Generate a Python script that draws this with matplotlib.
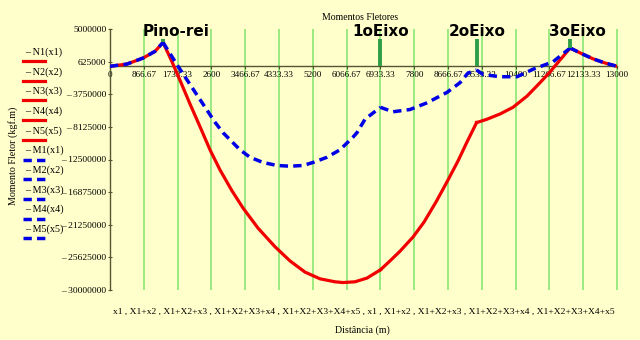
import matplotlib.pyplot as plt
from matplotlib.lines import Line2D

# posicoes (mm) e momentos (kgf.m) por trecho
x1 = [0, 435, 846, 1154, 1360]
x2 = [1360, 1590, 1821, 2051, 2308, 2564, 2821, 3128, 3410, 3795, 4231, 4615,
      5000, 5385, 5769, 5974, 6282, 6590, 6933]
x3 = [6933, 7179, 7436, 7769, 8051, 8359, 8641, 8923, 9154, 9400]
x4 = [9400, 9667, 10000, 10333, 10692, 11026, 11282, 11538, 11800]
x5 = [11800, 12051, 12385, 12692, 13000]

N1 = [0, 0.3e6, 1.1e6, 2.0e6, 3.2e6]
N2 = [3.2e6, 0.6e6, -2.2e6, -5.05e6, -8.1e6, -11.2e6, -13.9e6, -16.7e6, -19.0e6,
      -21.7e6, -24.2e6, -26.1e6, -27.6e6, -28.5e6, -28.9e6, -29.0e6, -28.9e6,
      -28.4e6, -27.3e6]
N3 = [-27.3e6, -26.1e6, -24.8e6, -22.9e6, -20.9e6, -18.2e6, -15.5e6, -12.7e6,
      -10.15e6, -7.55e6]
N4 = [-7.55e6, -7.1e6, -6.4e6, -5.5e6, -4.0e6, -2.2e6, -0.76e6, 0.84e6, 2.45e6]
N5 = [2.45e6, 1.8e6, 1.0e6, 0.44e6, 0]

xm1 = [0, 435, 846, 1154, 1360]
xm2 = [1360, 1744, 2692, 2897, 3333, 3590, 3923, 4282, 4615, 4949, 5205, 5564,
       5897, 6231, 6333, 6538, 6933]
xm3 = [6933, 7256, 7692, 8128, 8641, 8974, 9180, 9400]
xm4 = [9400, 9564, 10000, 10436, 10846, 11359, 11800]
xm5 = [11800, 12051, 12385, 12692, 13000]

M1 = [0, 0.3e6, 1.1e6, 2.0e6, 3.2e6]
M2 = [3.2e6, 0, -7.5e6, -8.9e6, -11.2e6, -12.2e6, -12.9e6, -13.3e6, -13.4e6,
      -13.3e6, -12.9e6, -12.2e6, -11.2e6, -9.5e6, -8.9e6, -7.1e6, -5.5e6]
M3 = [-5.5e6, -6.1e6, -5.8e6, -4.9e6, -3.5e6, -2.2e6, -0.9e6, -0.5e6]
M4 = [-0.5e6, -1.1e6, -1.4e6, -1.4e6, -0.4e6, 0.6e6, 2.45e6]
M5 = [2.45e6, 1.8e6, 1.0e6, 0.44e6, 0]

eixos = ["Pino-rei", "1oEixo", "2oEixo", "3oEixo"]
x_eixos = [1360, 6933, 9400, 11800]
M_eixos = [3.2e6, -5.5e6, -0.5e6, 2.45e6]

L = 13000
x_ticks = [L / 15 * i for i in range(16)]
y_ticks = [5000000 - 4375000 * i for i in range(9)]

n_labels = ["N1(x1)", "N2(x2)", "N3(x3)", "N4(x4)", "N5(x5)"]
m_labels = ["M1(x1)", "M2(x2)", "M3(x3)", "M4(x4)", "M5(x5)"]

bg = "#ffffcc"
serif = "Liberation Serif"
dash = (0, (2.4, 1.5))

fig = plt.figure(figsize=(6.4, 3.4), dpi=100, facecolor=bg)
ax = fig.add_axes([110 / 640, 1 - 290 / 340, 507 / 640, 261 / 340])
ax.set_facecolor(bg)
ax.set_xlim(0, L)
ax.set_ylim(-30000000, 5000000)

# linhas verticais da grade
ax.vlines(x_ticks[1:], -30000000, 5000000, color="#80e46c", lw=1.1, zorder=1, clip_on=False)

for xs, ys in zip([x1, x2, x3, x4, x5], [N1, N2, N3, N4, N5]):
    ax.plot(xs, ys, color="#f00000", lw=2.3, zorder=3, solid_joinstyle="round")
for xs, ys in zip([xm1, xm2, xm3, xm4, xm5], [M1, M2, M3, M4, M5]):
    ax.plot(xs, ys, color="#0000e6", lw=2.5, ls=dash, zorder=4)

# marcadores dos eixos do veiculo
offs = [330, 15, 10, 175]
for nome, xe, me, dx in zip(eixos, x_eixos, M_eixos, offs):
    ax.vlines(xe, max(0, me), 3.6e6, color="#2f9e48", lw=2.8, zorder=5)
    ax.text(xe + dx, 4.65e6, nome, ha="center", va="center", fontsize=11,
            fontweight="bold", family="DejaVu Sans", clip_on=False, zorder=6)

for s in ["top", "right"]:
    ax.spines[s].set_visible(False)
ax.spines["bottom"].set_position(("data", 0))
ax.spines["bottom"].set_color("#555533")
ax.spines["left"].set_color("#555533")
ax.spines["bottom"].set_linewidth(1.0)
ax.spines["left"].set_linewidth(1.0)

ax.set_xticks(x_ticks)
ax.set_xticklabels([f"{v:.2f}".rstrip("0").rstrip(".") for v in x_ticks],
                   family=serif, fontsize=6.6)
ax.set_yticks(y_ticks)
ax.set_yticklabels([(f"– {-v}" if v < 0 else f"{v}") for v in y_ticks],
                   family=serif, fontsize=6.8)
ax.tick_params(axis="x", length=2, pad=1.5, color="#555533")
ax.tick_params(axis="y", length=3, pad=1, direction="inout", color="#555533")

fig.text(360 / 640, 1 - 17 / 340, "Momentos Fletores", ha="center", va="center",
         family=serif, fontsize=7)
fig.text(364 / 640, 1 - 312 / 340,
         "x1 , X1+x2 , X1+X2+x3 , X1+X2+X3+x4 , X1+X2+X3+X4+x5 , "
         "x1 , X1+x2 , X1+X2+x3 , X1+X2+X3+x4 , X1+X2+X3+X4+x5",
         ha="center", va="center", family=serif, fontsize=6.8)
fig.text(362 / 640, 1 - 330 / 340, "Distância (m)", ha="center", va="center",
         family=serif, fontsize=7.2)
fig.text(13 / 640, 1 - 156 / 340, "Momento Fletor (kgf.m)", rotation=90,
         ha="center", va="center", family=serif, fontsize=7.2)

# legenda no estilo do Mathcad: texto em cima, amostra da linha embaixo
for i, lab in enumerate(n_labels + m_labels):
    ty = 52 + 19.7 * i
    fig.text(25 / 640, 1 - ty / 340, "– " + lab, ha="left", va="center",
             family=serif, fontsize=7.3)
    if i < 5:
        ln = Line2D([23 / 640, 45 / 640], [1 - (ty + 9) / 340] * 2,
                    color="#f00000", lw=2.3, transform=fig.transFigure)
    else:
        ln = Line2D([23 / 640, 45 / 640], [1 - (ty + 9) / 340] * 2,
                    color="#0000e6", lw=2.5, ls=dash, transform=fig.transFigure)
    fig.add_artist(ln)

fig.savefig("out.png", dpi=100, facecolor=bg)
